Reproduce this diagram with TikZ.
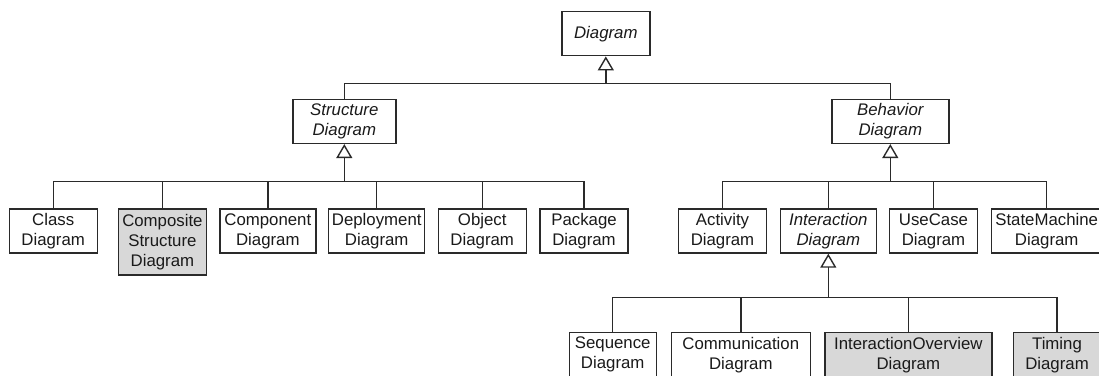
\documentclass[tikz,border=0pt]{standalone}
\usepackage{fontspec}
\setmainfont{Liberation Sans}
\usetikzlibrary{arrows.meta}
\definecolor{linec}{HTML}{2A2A2A}
\definecolor{textc}{HTML}{1A1A1A}
\definecolor{shade}{HTML}{D8D8D8}
\begin{document}
\begin{tikzpicture}[x=1pt, y=-1pt,
  box/.style={draw=linec, line width=1.4pt, fill=white, inner sep=0pt,
    align=center, anchor=north, text=textc, minimum height=44pt,
    font=\fontsize{16.8}{20}\selectfont},
  abstract/.style={box, font=\fontsize{16.8}{20}\selectfont\itshape},
  grey/.style={fill=shade},
  link/.style={draw=linec, line width=1.4pt},
  inh/.style={link, -{Triangle[open, length=14pt, width=16pt, line width=1.4pt]}}]
\useasboundingbox (0,0) rectangle (1099,375);
\clip (0,0) rectangle (1099,375);

% root
\node[abstract, minimum width=88pt] (diagram) at (605.8,11) {Diagram};

% second level
\node[abstract, minimum width=103pt] (structure) at (344.3,98.7) {Structure\\Diagram};
\node[abstract, minimum width=117pt] (behavior) at (890.3,98.7) {Behavior\\Diagram};

% structure diagrams
\node[box, minimum width=88pt] (class) at (53.2,208.3) {Class\\Diagram};
\node[box, grey, minimum width=88pt, minimum height=66pt] (composite) at (162.4,208.3) {Composite\\Structure\\Diagram};
\node[box, minimum width=96pt] (component) at (267.8,208.3) {Component\\Diagram};
\node[box, minimum width=96pt] (deployment) at (376.7,208.3) {Deployment\\Diagram};
\node[box, minimum width=88pt] (object) at (482.2,208.3) {Object\\Diagram};
\node[box, minimum width=88pt] (package) at (584,208.3) {Package\\Diagram};

% behavior diagrams
\node[box, minimum width=88pt] (activity) at (722.5,208.3) {Activity\\Diagram};
\node[abstract, minimum width=96pt] (interaction) at (828.3,208.3) {Interaction\\Diagram};
\node[box, minimum width=88pt] (usecase) at (933.5,208.3) {UseCase\\Diagram};
\node[box, minimum width=111pt] (statemachine) at (1046.7,208.3) {StateMachine\\Diagram};

% interaction diagrams
\node[box, minimum width=87pt] (sequence) at (612.7,332) {Sequence\\Diagram};
\node[box, minimum width=139pt] (communication) at (740.8,332) {Communication\\Diagram};
\node[box, grey, minimum width=167pt] (overview) at (908.3,332) {InteractionOverview\\Diagram};
\node[box, grey, minimum width=87pt] (timing) at (1057,332) {Timing\\Diagram};

% generalization buses
\coordinate (bus0) at (diagram.south |- 0,83.3);
\coordinate (bus1) at (structure.south |- 0,181.7);
\coordinate (bus2) at (behavior.south |- 0,181.7);
\coordinate (bus3) at (interaction.south |- 0,297.7);

\draw[inh] (bus0) -- (diagram.south);
\draw[link] (structure.north) |- (bus0) -| (behavior.north);

\draw[inh] (bus1) -- (structure.south);
\draw[link] (class.north) |- (bus1) -| (package.north);
\foreach \n in {composite, component, deployment, object}
  \draw[link] (\n.north) -- (\n.north |- bus1);

\draw[inh] (bus2) -- (behavior.south);
\draw[link] (activity.north) |- (bus2) -| (statemachine.north);
\foreach \n in {interaction, usecase}
  \draw[link] (\n.north) -- (\n.north |- bus2);

\draw[inh] (bus3) -- (interaction.south);
\draw[link] (sequence.north) |- (bus3) -| (timing.north);
\foreach \n in {communication, overview}
  \draw[link] (\n.north) -- (\n.north |- bus3);
\end{tikzpicture}
\end{document}
